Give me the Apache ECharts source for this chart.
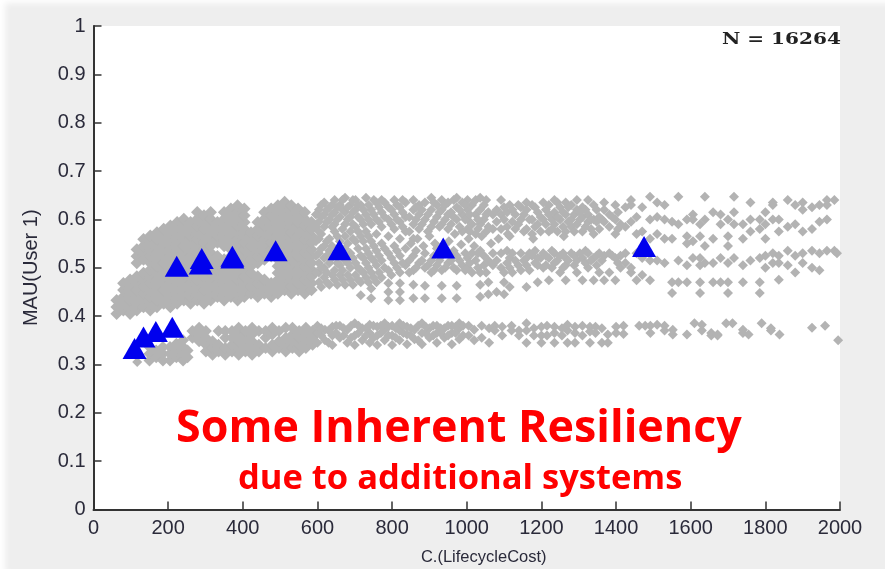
<!DOCTYPE html>
<html><head><meta charset="utf-8">
<style>html,body{margin:0;padding:0;background:#eeeeee;overflow:hidden}
#c{width:885px;height:569px}
#e{position:fixed;left:0;top:0;width:885px;height:569px;box-shadow:inset 6px 4px 6px -1px #fff;pointer-events:none}</style>
<script src="https://cdn.jsdelivr.net/npm/echarts@6/dist/echarts.min.js"></script>
</head><body><div id="c"></div><div id="e"></div>
<script>
// each row: x, then the y values seen at that x
const denseUpper = [
[62,.405,.419,.433],[80,.412,.426,.44,.454,.468],[98,.405,.419,.433,.447,.461,.475],
[116,.412,.426,.44,.454,.468,.482,.51,.524,.538],[134,.419,.433,.447,.461,.475,.489,.517,.531,.545,.559],
[152,.412,.426,.44,.454,.468,.482,.496,.51,.524,.538,.552,.566],[170,.419,.433,.447,.461,.475,.489,.503,.517,.531,.545,.559,.573],
[188,.426,.44,.454,.468,.482,.496,.51,.524,.538,.552,.566,.58],[206,.419,.433,.447,.461,.475,.489,.503,.517,.531,.545,.559,.573,.587],
[224,.426,.44,.454,.468,.482,.496,.51,.524,.538,.552,.566,.58,.594],[242,.433,.447,.461,.475,.489,.503,.517,.531,.545,.559,.573,.587,.601],
[260,.426,.44,.454,.468,.482,.496,.51,.524,.538,.552,.566,.58,.594],[278,.433,.447,.461,.475,.489,.503,.517,.531,.545,.559,.573,.587,.601,.615],
[296,.426,.44,.454,.468,.482,.496,.51,.524,.538,.552,.566,.58,.594,.608],[314,.433,.447,.461,.475,.489,.503,.517,.531,.545,.559,.573,.587,.601,.615],
[332,.44,.454,.468,.482,.496,.51,.524,.552,.566,.58,.594],[350,.433,.447,.461,.475,.489,.503,.517,.545,.559,.573,.587,.601,.615],
[368,.44,.454,.468,.482,.496,.51,.524,.538,.552,.566,.58,.594,.608,.622],[386,.433,.447,.461,.475,.489,.503,.517,.531,.545,.559,.573,.587,.601,.615,.629],
[404,.44,.454,.468,.482,.496,.51,.524,.538,.552,.566,.58,.594,.608,.622],[422,.447,.461,.475,.489,.503,.517,.531,.545,.559,.573],
[440,.44,.454,.468,.482,.51,.524,.538,.552,.566,.58,.594],[458,.447,.461,.475,.517,.531,.545,.559,.573,.587,.601,.615],
[476,.44,.454,.468,.524,.538,.552,.566,.58,.594,.608,.622],[494,.447,.461,.475,.489,.503,.517,.531,.545,.559,.573,.587,.601,.615,.629],
[512,.454,.468,.482,.496,.51,.524,.538,.552,.566,.58,.594,.608,.622,.636],[530,.447,.461,.475,.489,.503,.517,.531,.545,.559,.573,.587,.601,.615,.629],
[548,.454,.468,.482,.496,.51,.524,.538,.552,.566,.58,.594,.608,.622],[566,.447,.461,.475,.489,.503,.517,.531,.545,.559,.573,.587,.601,.615],
[584,.454,.468,.482,.496,.51,.524,.538,.552,.566,.58,.594]
];
const denseLower = [
[150,.308,.322,.336],[168,.315,.329],[186,.308,.322,.336],[205,.308,.322,.336],[222,.315,.329,.343],[240,.308,.322,.336,.35],[252,.315,.329],
[265,.355,.369],[283,.348,.362,.376],[301,.327,.341,.355,.369],[319,.32,.334,.348],[335,.327,.341,.369],[353,.32,.334,.355,.369],
[371,.327,.341,.355,.369],[389,.32,.334,.348,.362,.376],[407,.327,.341,.355,.369],[425,.32,.334,.348,.362,.376],[443,.327,.341,.369],
[461,.334,.355,.369],[479,.327,.341,.362,.376],[497,.334,.348,.369],[515,.327,.341,.355,.376],[533,.334,.348,.362,.376],[551,.327,.341,.355,.369],[569,.334,.348,.362,.376],[587,.341,.355,.369]
];
const sparseMiddle = [
[117,.305],
[604,.47,.49,.51,.53,.56,.575,.595,.62],[618,.48,.5,.52,.545,.585,.61,.635],[632,.465,.51,.535,.56,.6,.625],[646,.475,.495,.575,.59,.615,.64],
[660,.485,.505,.555,.605,.63],[674,.465,.515,.54,.565,.59,.615,.645],[688,.475,.5,.53,.575,.605,.63],[702,.485,.51,.555,.585,.62,.64],
[716,.443,.47,.495,.525,.565,.6,.63],[730,.48,.51,.54,.575,.61,.645],[744,.457,.437,.49,.52,.555,.59,.62],[758,.47,.505,.535,.57,.6,.635],
[772,.48,.515,.55,.585,.615,.64],[790,.468,.45,.433,.495,.53,.565,.6,.625],[806,.51,.545,.58,.61,.64],[821,.468,.45,.433,.49,.525,.56,.595,.625],
[836,.505,.54,.575,.605,.635],[857,.465,.437,.495,.525,.56,.59,.62,.64],[872,.51,.58,.61,.63],[888,.463,.437,.5,.53,.6,.635],
[905,.49,.515,.585,.62,.645],[920,.505,.54,.605,.63],[933,.463,.437,.495,.525,.59,.62,.64],[950,.51,.58,.61,.635],
[973,.463,.437,.495,.525,.6,.625,.645],[988,.505,.575,.61,.635],
[1002,.5,.52,.58,.6,.62,.64],[1014,.49,.53,.59,.63],[1024,.515,.57,.61,.64],[1036,.44,.465,.49,.535,.59,.62,.645],[1046,.505,.525,.6,.63],
[1058,.47,.445,.515,.585,.615],[1080,.45,.515,.595,.62],[1092,.5,.53,.58,.61,.64],[1100,.445,.47,.49,.6,.625],
[1115,.46,.5,.52,.565,.63],[1130,.515,.58,.61],[1145,.495,.53,.6,.625],[1160,.46,.505,.52,.58,.62,.635],[1175,.525,.57,.6,.63],
[1190,.505,.47,.52,.59,.615],[1205,.5,.53,.6,.635],[1220,.474,.52,.575,.61,.63],[1235,.51,.53,.59,.615,.64],[1250,.49,.525,.6,.625],
[1265,.474,.505,.52,.575,.61,.635],[1280,.53,.585,.6,.63],[1295,.49,.515,.59,.62,.64],[1310,.474,.52,.575,.605,.625],[1325,.5,.53,.595,.61,.64],
[1340,.474,.52,.6,.63],[1355,.49,.53,.58,.605],[1368,.474,.525,.595,.62,.635],[1382,.49,.53,.585,.61],[1398,.474,.52,.57,.6,.63],
[1412,.5,.525,.59],[1425,.51,.53,.585,.625],[1440,.49,.5,.595,.63,.64],[1455,.474,.53,.57,.605],[1470,.485,.52,.575,.625],[1491,.474,.515,.56,.6,.647],
[1510,.515,.57,.605,.635],[1530,.6,.63,.56,.51],[1550,.448,.47,.595,.56],[1567,.47,.515,.59,.647],[1590,.47,.505,.55,.6,.565],
[1606,.52,.555,.61,.6],[1625,.448,.47,.505,.52,.59,.565],[1638,.51,.545,.6,.647],[1660,.47,.51,.56,.615],[1680,.47,.52,.61,.59],
[1700,.448,.47,.51,.545,.6,.565],[1716,.52,.59,.615,.647],[1740,.47,.505,.59,.56],[1760,.515,.6,.635,.575],[1785,.448,.47,.52,.58,.6],
[1800,.5,.525,.56,.59,.615],[1820,.51,.53,.6,.63,.635],[1836,.475,.51,.525,.6,.575],[1860,.505,.535,.585,.64],[1880,.49,.525,.59,.63],
[1900,.51,.53,.575,.62,.635],[1925,.5,.535,.58,.625],[1945,.495,.53,.595,.63],[1965,.535,.6,.63,.64],[1985,.535,.64],[1992,.53]
];
const sparseMiddleFill = [
[596,.49,.525,.555,.585,.61],[610,.46,.5,.54,.57,.605,.63],[625,.47,.49,.525,.555,.595,.62],[639,.485,.52,.545,.585,.61,.63],[653,.465,.51,.53,.565,.6,.625],
[667,.475,.495,.525,.58,.62,.64],[681,.485,.51,.55,.6,.625],[695,.465,.52,.56,.59,.615,.64],[709,.475,.5,.54,.575,.605,.63],[723,.49,.52,.555,.59,.62],
[737,.47,.5,.53,.565,.6,.63],[751,.48,.515,.545,.61,.64],[765,.49,.525,.595,.625],[780,.5,.54,.605,.635],[798,.485,.52,.59,.62],
[813,.5,.535,.6,.63],[828,.51,.585,.615,.64],[846,.49,.515,.575,.605],[864,.5,.535,.6,.625],[880,.515,.59,.62],
[896,.505,.575,.61],[912,.495,.525,.595,.635],[927,.515,.585,.615],[942,.5,.53,.6,.63],[958,.515,.59,.615],
[965,.5,.535,.605,.64],[981,.515,.585,.62],[996,.495,.53,.6,.63],[1008,.51,.575,.61],[1030,.5,.53,.58,.6],[1052,.49,.575,.61,.64],
[1070,.505,.53,.58,.61],[1108,.51,.535,.585,.615],[1122,.49,.53,.595,.62],[1138,.505,.59,.63],[1153,.515,.575,.61],[1168,.495,.53,.6],
[1183,.51,.535,.585,.625],[1198,.52,.575,.605],[1212,.505,.525,.59,.62],[1228,.5,.535,.58,.6],[1243,.515,.575,.605,.635],[1258,.5,.53,.585,.615],
[1272,.515,.595,.625],[1288,.505,.525,.575,.61],[1303,.53,.6,.615],[1318,.51,.535,.585,.62],[1333,.515,.58,.6],[1348,.505,.525,.595,.62],[1362,.515,.6],[1390,.525,.605],[1405,.51,.58,.615]
];
const sparseMiddleGap = [
[850,.55],[868,.56],[884,.545],[900,.565],[915,.55],[952,.555],[968,.57],[985,.548],[1005,.56],[1020,.545],[1040,.565],[1065,.55],[1085,.56],[1110,.57],[1178,.56],[1260,.565],[1340,.57]
];
const sparseLower = [
[600,.345,.365,.38],[620,.35,.372],[640,.34,.36,.378],[660,.355,.38],[680,.345,.372],[700,.34,.36,.385],[720,.35,.375],[740,.345,.365,.382],
[760,.34,.36,.378],[780,.35,.372,.385],[800,.34,.36,.38],[820,.35,.37,.385],[840,.342,.362,.378],[860,.352,.372],[880,.342,.365,.385],
[900,.355,.375],[920,.345,.365,.38],[940,.355,.375],[960,.342,.365,.38],[980,.352,.375,.385],
[610,.36,.375],[630,.345,.37],[650,.365,.38],[670,.36,.375],[690,.355,.38],[710,.365,.38],[730,.36,.375],[750,.355,.38],[770,.365,.38],[790,.36,.378],
[810,.355,.375],[830,.365,.38],[850,.36,.375],[870,.35,.38],[890,.365,.378],[910,.36,.38],[930,.365,.375],[950,.36,.38],[970,.365,.378],[990,.36,.38],
[1005,.36,.38],[1020,.35,.372],[1040,.355,.38],[1060,.345,.375],[1075,.38,.37],[1095,.36,.378],[1120,.38,.37],[1140,.37,.36],[1160,.345,.37,.385],
[1180,.36,.375],[1200,.345,.36,.378],[1215,.36,.38],[1235,.345,.365,.378],[1255,.36,.375],[1270,.345,.37,.382],[1290,.345,.365,.378],[1310,.36,.38],
[1330,.345,.368,.378],[1345,.378,.365],[1362,.345,.375],[1378,.362,.345],[1400,.378,.365],[1420,.38,.363],[1462,.38],[1478,.38],[1492,.365,.38],[1510,.382],[1530,.38,.37],
[1552,.362,.372],[1590,.362],[1610,.385],[1630,.382,.37],[1655,.365,.36],[1672,.36,.362],[1695,.385],[1712,.385],[1740,.372,.365],[1755,.362],[1790,.385],[1815,.37,.375],[1838,.362],[1925,.376],[1960,.38],[1995,.35]
];
const optimal = [[110,.333],[134,.357],[167,.368],[211,.377],[223,.503],[287,.508],[290,.519],[372,.52],[372,.524],[488,.535],[659,.537],[937,.541],[1475,.544]];
const annotationMain = 'Some Inherent Resiliency';
const annotationSub = 'due to additional systems';
const countNote = 'N = 16264';

const expand = rows => rows.flatMap(r => r.slice(1).map(y => [r[0], y]));
const ink = '#2a2a3a', grey = '#b3b3b3';
const chart = echarts.init(document.getElementById('c'), null, {renderer:'canvas'});
const axis = {
  axisLine:{show:true,onZero:false,lineStyle:{color:'#333',width:2}},
  axisTick:{show:true,inside:true,length:8,lineStyle:{color:'#333',width:1.5}},
  splitLine:{show:false},
  nameLocation:'middle',
  axisLabel:{color:ink,fontSize:20,fontFamily:'Liberation Sans',showMinLabel:true,showMaxLabel:true,formatter:v=>String(v)}
};
const gridMark = (name,rows,size) => ({type:'scatter',name,data:expand(rows),symbol:'diamond',symbolSize:size,itemStyle:{color:grey,opacity:1},silent:true});
chart.setOption({
  backgroundColor:'transparent',animation:false,
  grid:{left:93.5,right:45,top:26,bottom:59.5,show:true,backgroundColor:'#fff',borderWidth:0,outerBoundsMode:'none'},
  xAxis:{...axis,type:'value',min:0,max:2000,interval:200,name:'C.(LifecycleCost)',nameGap:39,
    nameTextStyle:{color:ink,fontSize:16.5,fontFamily:'Liberation Sans',padding:[0,0,0,34]},axisLabel:{...axis.axisLabel,margin:9}},
  yAxis:{...axis,type:'value',min:0,max:1,interval:.1,name:'MAU(User 1)',nameGap:52,
    nameTextStyle:{color:ink,fontSize:20,fontFamily:'Liberation Sans'},axisLabel:{...axis.axisLabel,margin:8}},
  series:[
    gridMark('dense upper',denseUpper,12.5),
    gridMark('dense lower',denseLower,12),
    gridMark('sparse middle',sparseMiddle,10),
    gridMark('sparse fill',sparseMiddleFill,10),
    gridMark('sparse gap',sparseMiddleGap,10),
    gridMark('sparse lower',sparseLower,10),
    {type:'scatter',name:'optimal',data:optimal,symbol:'triangle',symbolSize:[24,21],itemStyle:{color:'#0000ee',opacity:1},z:5,silent:true}
  ],
  graphic:[
    {type:'text',left:722,top:31,z:10,scaleX:1.18,style:{text:countNote,fill:'#222',font:'bold 17px "DejaVu Serif"'}},
    {type:'text',left:176,top:407,z:10,style:{text:annotationMain,fill:'#ff0000',font:'bold 44.8px "Open Sans"'}},
    {type:'text',left:238,top:462,z:10,style:{text:annotationSub,fill:'#ff0000',font:'bold 34.5px "Open Sans"'}}
  ]
});
</script></body></html>
